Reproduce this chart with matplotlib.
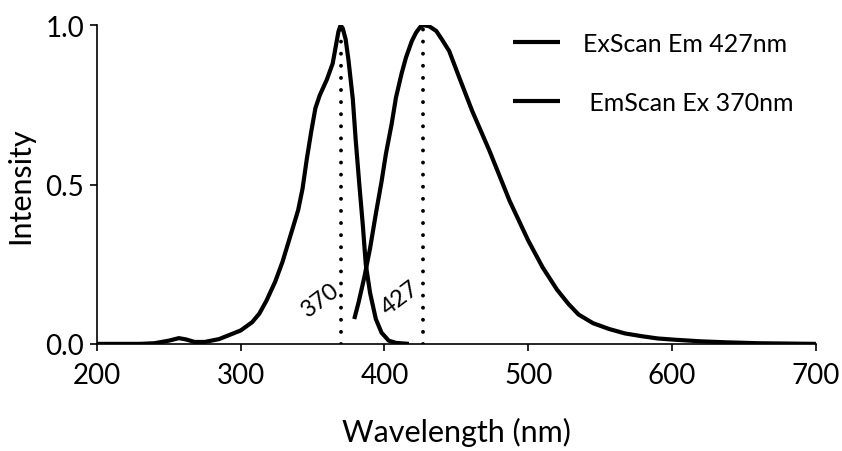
import matplotlib as mpl
import matplotlib.pyplot as plt

mpl.rcParams['font.family'] = ['Lato', 'DejaVu Sans']

# excitation scan (emission at 427 nm)
ex_nm = [200, 230, 240, 250, 257, 262, 268, 275, 285, 300, 308, 313, 318, 324,
         329, 336, 340, 343, 346, 349, 352, 355, 360, 364, 366, 368, 369.5,
         371, 373, 375, 378, 380, 382.6, 385, 387, 390, 394, 398, 403, 408, 417]
ex_int = [0, 0, 0.002, 0.01, 0.018, 0.014, 0.006, 0.006, 0.015, 0.042, 0.068,
          0.095, 0.136, 0.195, 0.256, 0.36, 0.42, 0.486, 0.58, 0.664, 0.74,
          0.78, 0.83, 0.88, 0.93, 0.98, 1.0, 0.99, 0.956, 0.89, 0.768, 0.64,
          0.496, 0.37, 0.25, 0.16, 0.078, 0.035, 0.01, 0.003, 0]

# emission scan (excitation at 370 nm)
em_nm = [379, 382, 386, 390, 394, 398, 401, 405, 408, 412, 415, 419, 422, 425,
         427, 431, 436, 440, 445, 452, 461, 473, 487, 500, 510, 520, 528, 535,
         545, 556, 567, 579, 590, 602, 620, 637, 660, 700]
em_int = [0.078, 0.13, 0.209, 0.30, 0.408, 0.51, 0.596, 0.69, 0.773, 0.85,
          0.899, 0.95, 0.977, 0.995, 1.0, 0.997, 0.982, 0.955, 0.919, 0.836,
          0.731, 0.606, 0.449, 0.324, 0.24, 0.17, 0.125, 0.092, 0.065, 0.047,
          0.033, 0.024, 0.017, 0.013, 0.008, 0.005, 0.002, 0]

peaks = [370, 427]
labels = ['ExScan Em 427nm', ' EmScan Ex 370nm']

fig = plt.figure(figsize=(8.42, 4.52), dpi=100)
ax = fig.add_axes([0.115, 0.237, 0.854, 0.705])

ax.plot(ex_nm, ex_int, color='k', lw=3, label=labels[0], solid_capstyle='butt',
        solid_joinstyle='round')
ax.plot(em_nm, em_int, color='k', lw=3, label=labels[1], solid_capstyle='butt',
        solid_joinstyle='round')
for p in peaks:
    ax.plot([p, p], [0, 1], color='k', lw=2.8, linestyle=(0, (0.01, 3.1)),
            dash_capstyle='round')

ax.text(355.6, 0.141, '370', rotation=37, fontsize=17, ha='center', va='center')
ax.text(411.1, 0.147, '427', rotation=37, fontsize=17, ha='center', va='center')

ax.set_xlim(200, 700)
ax.set_ylim(0, 1.0)
ax.set_xticks([200, 300, 400, 500, 600, 700])
ax.set_yticks([0, 0.5, 1.0])
ax.set_yticklabels(['0.0', '0.5', '1.0'])
for s in ['top', 'right']:
    ax.spines[s].set_visible(False)
for s in ['left', 'bottom']:
    ax.spines[s].set_linewidth(1.2)
ax.tick_params(labelsize=20, length=5, width=1.2)
ax.tick_params(axis='x', pad=8)
ax.tick_params(axis='y', pad=4)
ax.set_xlabel('Wavelength (nm)', fontsize=22, labelpad=21)
ax.set_ylabel('Intensity', fontsize=22, labelpad=8)

ax.legend(loc='upper right', frameon=False, fontsize=18, handlelength=1.9,
          handletextpad=0.9, labelspacing=1.45, bbox_to_anchor=(1.0, 1.05))

fig.savefig('out.png', dpi=100)
